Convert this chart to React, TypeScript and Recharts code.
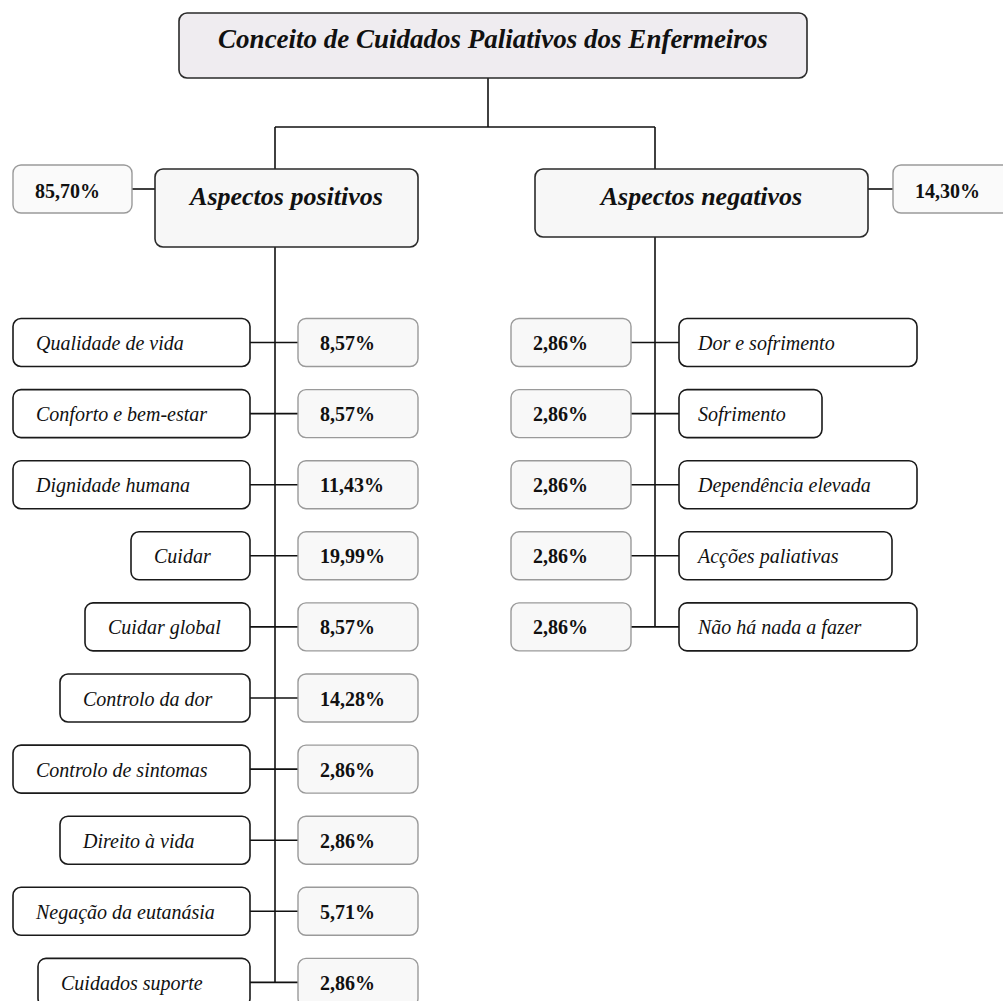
import React from 'react';
import { ScatterChart, Scatter, XAxis, YAxis, ReferenceLine } from 'recharts';

// ---------- data ----------
const TITLE = 'Conceito de Cuidados Paliativos dos Enfermeiros';
const aspectLabels = ['Aspectos positivos', 'Aspectos negativos'];
const aspectTotals = [85.7, 14.3];
const positiveCategories = [
  'Qualidade de vida',
  'Conforto e bem-estar',
  'Dignidade humana',
  'Cuidar',
  'Cuidar global',
  'Controlo da dor',
  'Controlo de sintomas',
  'Direito à vida',
  'Negação da eutanásia',
  'Cuidados suporte',
];
const positiveValues = [8.57, 8.57, 11.43, 19.99, 8.57, 14.28, 2.86, 2.86, 5.71, 2.86];
const negativeCategories = [
  'Dor e sofrimento',
  'Sofrimento',
  'Dependência elevada',
  'Acções paliativas',
  'Não há nada a fazer',
];
const negativeValues = [2.86, 2.86, 2.86, 2.86, 2.86];

// ---------- layout ----------
const W = 1003;
const H = 1001;
const ROW0 = 342.5;
const STEP = 71.1;
const py = (px: number) => (px - ROW0) / STEP; // header layout in row units
const Y_DOMAIN: [number, number] = [py(0), py(H)];

const L = {
  posLabelRight: 250,
  posPctLeft: 298,
  posTrunk: 275,
  negPctLeft: 511,
  negTrunk: 655,
  negLabelLeft: 679,
  pctW: 120,
  rowH: 48,
  posLabelW: [237, 237, 237, 119, 165, 190, 237, 190, 237, 212],
  negLabelW: [238, 143, 238, 213, 238],
};

const FONT = '"Liberation Serif", "Times New Roman", serif';

const STYLES: Record<string, any> = {
  title: { fill: '#efecf0', stroke: '#2a2a2a', sw: 1.6, size: 27, weight: 'bold', italic: true, anchor: 'middle' },
  aspect: { fill: '#f7f7f7', stroke: '#2a2a2a', sw: 1.6, size: 26, weight: 'bold', italic: true, anchor: 'middle' },
  total: { fill: '#fafafa', stroke: '#9a9a9a', sw: 1.4, size: 20, weight: 'bold', italic: false, anchor: 'start', tx: 22 },
  label: { fill: '#ffffff', stroke: '#1a1a1a', sw: 1.6, size: 20, weight: 'normal', italic: true, anchor: 'start', tx: 23 },
  labelR: { fill: '#ffffff', stroke: '#1a1a1a', sw: 1.6, size: 20, weight: 'normal', italic: true, anchor: 'start', tx: 19 },
  pct: { fill: '#f8f8f8', stroke: '#9a9a9a', sw: 1.4, size: 20, weight: 'bold', italic: false, anchor: 'start', tx: 22 },
};

const fmt = (v: number) => v.toFixed(2).replace('.', ',') + '%';

// ---------- points ----------
const titlePts = [{ x: 493, y: py(45.5), w: 628, h: 65, align: 'center', dy: 2.5, text: TITLE, kind: 'title' }];
const aspectPts = [
  { x: 286.5, y: py(208), w: 263, h: 78, align: 'center', dy: -3, text: aspectLabels[0], kind: 'aspect' },
  { x: 701.5, y: py(203), w: 333, h: 68, align: 'center', dy: 2, text: aspectLabels[1], kind: 'aspect' },
];
const totalPts = [
  { x: 13, y: py(189), w: 119, h: 48, align: 'left', dy: 9, text: fmt(aspectTotals[0]), kind: 'total' },
  { x: 893, y: py(189), w: 120, h: 48, align: 'left', dy: 9, text: fmt(aspectTotals[1]), kind: 'total' },
];
const posLabelPts = positiveCategories.map((c, i) => ({
  x: L.posLabelRight, y: i, w: L.posLabelW[i], h: L.rowH, align: 'right', dy: 7.5, text: c, kind: 'label',
}));
const posPctPts = positiveValues.map((v, i) => ({
  x: L.posPctLeft, y: i, w: L.pctW, h: L.rowH, align: 'left', dy: 7.5, text: fmt(v), kind: 'pct',
}));
const negPctPts = negativeValues.map((v, i) => ({
  x: L.negPctLeft, y: i, w: L.pctW, h: L.rowH, align: 'left', dy: 7.5, text: fmt(v), kind: 'pct',
}));
const negLabelPts = negativeCategories.map((c, i) => ({
  x: L.negLabelLeft, y: i, w: L.negLabelW[i], h: L.rowH, align: 'left', dy: 7.5, text: c, kind: 'labelR',
}));

const BoxShape = (props: any) => {
  const { cx, cy, payload: p } = props;
  if (cx == null || cy == null || !p) return null;
  const s = STYLES[p.kind];
  const left = p.align === 'right' ? cx - p.w : p.align === 'center' ? cx - p.w / 2 : cx;
  const top = cy - p.h / 2;
  const tx = s.anchor === 'middle' ? left + p.w / 2 : left + s.tx;
  return (
    <g>
      <rect x={left} y={top} width={p.w} height={p.h} rx={8} ry={8} fill={s.fill} stroke={s.stroke} strokeWidth={s.sw} />
      <text
        x={tx}
        y={cy + p.dy}
        textAnchor={s.anchor}
        fontFamily={FONT}
        fontSize={s.size}
        fontWeight={s.weight}
        fontStyle={s.italic ? 'italic' : 'normal'}
        fill="#111"
      >
        {p.text}
      </text>
    </g>
  );
};

const LINE = { stroke: '#111', strokeWidth: 1.6 };

export default function App() {
  const segs: Array<[number, number, number, number]> = [
    [488, py(78), 488, py(127)],
    [L.posTrunk, py(127), L.negTrunk, py(127)],
    [L.posTrunk, py(127), L.posTrunk, py(169)],
    [L.negTrunk, py(127), L.negTrunk, py(169)],
    [132, py(189), 155, py(189)],
    [868, py(189), 893, py(189)],
    [L.posTrunk, py(247), L.posTrunk, positiveCategories.length - 1],
    [L.negTrunk, py(237), L.negTrunk, negativeCategories.length - 1],
    ...positiveCategories.map((_, i) => [L.posLabelRight, i, L.posPctLeft, i] as [number, number, number, number]),
    ...negativeCategories.map((_, i) => [L.negPctLeft + L.pctW, i, L.negLabelLeft, i] as [number, number, number, number]),
  ];
  return (
    <div style={{ position: 'absolute', left: 0, top: 0, width: W, height: H, background: '#fff' }}>
      <ScatterChart width={W} height={H} margin={{ top: 0, right: 0, bottom: 0, left: 0 }}>
        <XAxis type="number" dataKey="x" domain={[0, W]} allowDataOverflow hide />
        <YAxis type="number" dataKey="y" domain={Y_DOMAIN} allowDataOverflow reversed hide />
        {segs.map((s, i) => (
          <ReferenceLine
            key={i}
            segment={[{ x: s[0], y: s[1] }, { x: s[2], y: s[3] }]}
            {...LINE}
            ifOverflow="visible"
          />
        ))}
        <Scatter data={titlePts} shape={BoxShape} isAnimationActive={false} />
        <Scatter data={aspectPts} shape={BoxShape} isAnimationActive={false} />
        <Scatter data={totalPts} shape={BoxShape} isAnimationActive={false} />
        <Scatter data={posLabelPts} shape={BoxShape} isAnimationActive={false} />
        <Scatter data={posPctPts} shape={BoxShape} isAnimationActive={false} />
        <Scatter data={negPctPts} shape={BoxShape} isAnimationActive={false} />
        <Scatter data={negLabelPts} shape={BoxShape} isAnimationActive={false} />
      </ScatterChart>
    </div>
  );
}
